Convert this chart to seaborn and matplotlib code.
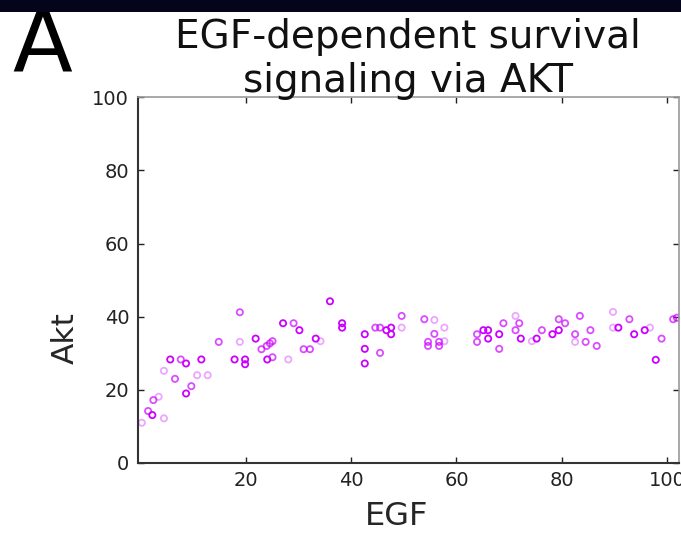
#!/usr/bin/env python3
"""Scatter of Akt against EGF: EGF-dependent survival signaling via AKT."""

import matplotlib

matplotlib.use("Agg")

import matplotlib.pyplot as plt
from matplotlib.patches import Rectangle
import pandas as pd
import seaborn as sns


EGF = [
    0.3, 1.5, 2.3, 2.5, 3.5, 4.5, 4.5, 5.7, 6.6, 7.7,
    8.7, 8.7, 9.7, 10.8, 11.6, 12.8, 14.9, 17.9, 18.9, 18.9,
    19.9, 19.9, 21.9, 23.0, 24.1, 24.0, 24.6, 25.1, 25.1, 27.1,
    28.1, 29.1, 30.2, 31.0, 32.2, 33.3, 34.2, 36.0, 38.3, 38.3,
    42.6, 42.6, 42.6, 44.6, 45.5, 45.5, 46.7, 47.6, 47.6, 49.6,
    49.6, 53.9, 55.8, 55.8, 54.6, 54.6, 56.7, 56.7, 57.7, 57.7,
    63.9, 63.9, 65.1, 66.0, 66.0, 68.1, 68.1, 68.9, 71.2, 71.2,
    71.9, 72.2, 74.3, 75.2, 76.2, 78.2, 79.4, 79.4, 80.6, 82.5,
    82.5, 83.4, 84.5, 85.4, 86.6, 89.7, 89.7, 90.7, 92.8, 93.7,
    95.7, 96.7, 97.8, 98.9, 101.1, 101.8,
]
AKT = [
    11.0, 14.2, 13.1, 17.2, 18.1, 12.2, 25.2, 28.3, 23.0, 28.3,
    27.2, 19.0, 21.0, 24.0, 28.3, 24.0, 33.1, 28.3, 41.2, 33.1,
    28.3, 27.0, 34.0, 31.1, 28.3, 32.0, 32.7, 33.3, 28.9, 38.2,
    28.3, 38.2, 36.3, 31.1, 31.1, 34.0, 33.3, 44.2, 38.2, 37.0,
    35.2, 31.2, 27.2, 37.0, 37.0, 30.1, 36.3, 37.0, 35.2, 40.2,
    37.0, 39.3, 39.1, 35.3, 33.1, 32.0, 33.1, 32.0, 37.0, 33.3,
    35.2, 33.1, 36.3, 36.3, 34.0, 35.2, 31.2, 38.2, 40.2, 36.3,
    38.2, 34.0, 33.3, 34.0, 36.3, 35.2, 39.3, 36.3, 38.2, 35.2,
    33.1, 40.2, 33.1, 36.3, 32.0, 41.3, 37.0, 37.0, 39.3, 35.2,
    36.3, 37.0, 28.2, 34.0, 39.3, 39.7,
]
# marker opacity as it appears in the picture
ALPHA = [
    0.35, 0.7, 1.0, 0.7, 0.35, 0.35, 0.35, 1.0, 0.7, 0.7,
    1.0, 1.0, 0.7, 0.35, 1.0, 0.35, 0.7, 1.0, 0.7, 0.35,
    1.0, 1.0, 1.0, 0.7, 1.0, 0.7, 0.7, 0.7, 0.7, 1.0,
    0.35, 0.7, 1.0, 0.7, 0.7, 1.0, 0.35, 1.0, 1.0, 1.0,
    1.0, 1.0, 1.0, 0.7, 0.7, 0.7, 1.0, 1.0, 1.0, 0.7,
    0.35, 0.7, 0.35, 0.7, 0.7, 0.7, 0.7, 0.7, 0.35, 0.35,
    0.7, 0.7, 1.0, 1.0, 1.0, 1.0, 0.7, 0.7, 0.35, 0.7,
    0.7, 1.0, 0.35, 1.0, 0.7, 1.0, 0.7, 1.0, 0.7, 0.7,
    0.35, 0.7, 0.7, 0.7, 0.7, 0.35, 0.35, 1.0, 0.7, 1.0,
    1.0, 0.35, 1.0, 0.7, 0.7, 0.7,
]
X_TICKS = [20, 40, 60, 80, 100]
Y_TICKS = [0, 20, 40, 60, 80, 100]

MAGENTA = "#cc00ff"


def main() -> None:
    sns.set_style("ticks")
    plt.rcParams["font.family"] = ["DejaVu Sans"]

    df = pd.DataFrame({"EGF": EGF, "Akt": AKT, "alpha": ALPHA})

    fig = plt.figure(figsize=(6.81, 5.34), dpi=100)
    ax = fig.add_axes([0.202, 0.133, 0.795, 0.685])

    for level, group in df.groupby("alpha"):
        sns.scatterplot(
            data=group,
            x="EGF",
            y="Akt",
            marker="o",
            s=20,
            facecolor="none",
            edgecolor=MAGENTA,
            linewidth=1.3,
            alpha=level,
            ax=ax,
            legend=False,
        )

    ax.set_xlim(-0.5, 102.2)
    ax.set_ylim(0, 100)
    ax.set_xticks(X_TICKS)
    ax.set_yticks(Y_TICKS)
    ax.tick_params(
        direction="in", length=4, width=1, top=True, right=True,
        labelsize=14, colors="#222222", pad=6,
    )
    for side in ("left", "bottom"):
        ax.spines[side].set_color("#333333")
        ax.spines[side].set_linewidth(1.5)
    for side in ("top", "right"):
        ax.spines[side].set_color("#999999")
        ax.spines[side].set_linewidth(1.2)

    ax.set_xlabel("EGF", fontsize=23)
    ax.set_ylabel("Akt", fontsize=22.5)
    ax.xaxis.set_label_coords(0.479, -0.105)
    ax.yaxis.set_label_coords(-0.106, 0.342)
    ax.set_title("EGF-dependent survival\nsignaling via AKT", fontsize=28, pad=3.5,
                 color="#111111")

    # dark strip along the top edge (it hides the top of the title) and the panel letter
    fig.patches.append(
        Rectangle((0, 1 - 12 / 534), 1, 12 / 534, transform=fig.transFigure,
                  facecolor="#04041a", edgecolor="none", zorder=10)
    )
    fig.text(0.018, 1 - 72 / 534, "A", fontsize=63, va="baseline", ha="left",
             color="black", zorder=1)

    fig.savefig("out.png", dpi=100)
    plt.close(fig)


if __name__ == "__main__":
    main()
